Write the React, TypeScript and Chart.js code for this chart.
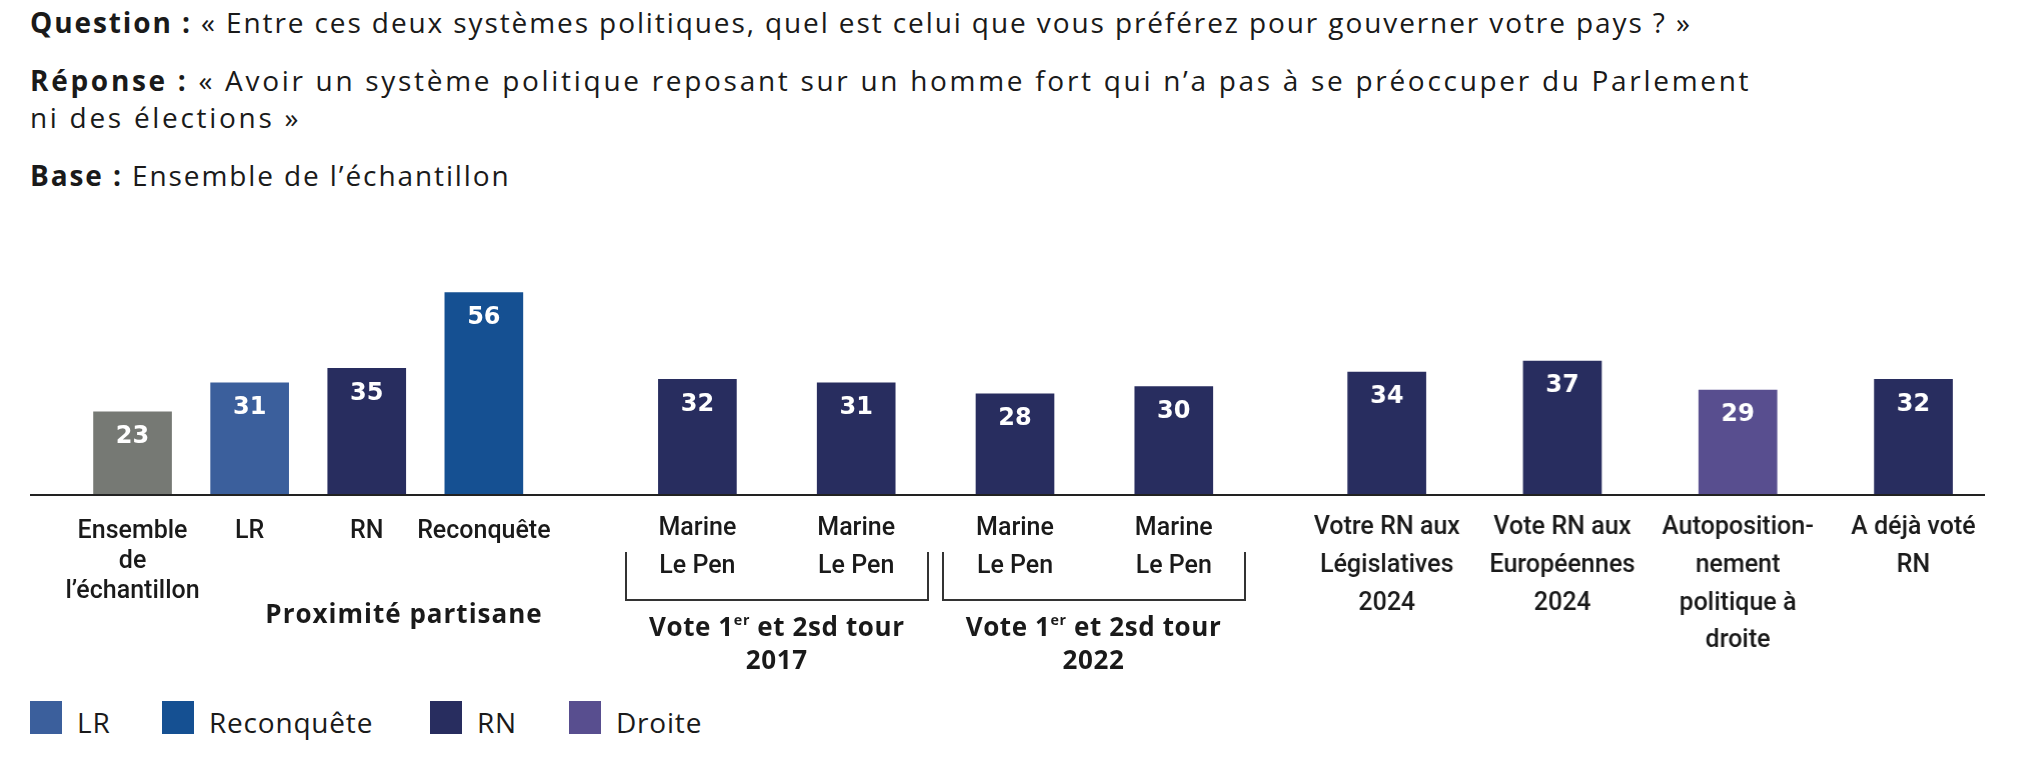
import { useEffect, useRef } from "react";
import Chart from "chart.js/auto";

const GRAY = "#767974";
const LR = "#3b5f9c";
const RECONQUETE = "#155092";
const RN = "#282d5f";
const DROITE = "#584e8f";
const INK = "#1a1a1a";

// Proximité partisane
const proximiteLabels = [["Ensemble", "de", "l’échantillon"], "LR", "RN", "Reconquête"];
const proximiteValues = [23, 31, 35, 56];
const proximiteColors = [GRAY, LR, RN, RECONQUETE];

// Vote 1er et 2sd tour 2017 / 2022
const voteLabels = [["Marine", "Le Pen"], ["Marine", "Le Pen"], ["Marine", "Le Pen"], ["Marine", "Le Pen"]];
const voteValues = [32, 31, 28, 30];
const voteColors = [RN, RN, RN, RN];

// autres sous-populations
const autresLabels = [
  ["Votre RN aux", "Législatives", "2024"],
  ["Vote RN aux", "Européennes", "2024"],
  ["Autoposition-", "nement", "politique à", "droite"],
  ["A déjà voté", "RN"],
];
const autresValues = [34, 37, 29, 32];
const autresColors = [RN, RN, DROITE, RN];

const legendNames = ["LR", "Reconquête", "RN", "Droite"];
const legendColors = [LR, RECONQUETE, RN, DROITE];
const legendLeft = [30, 162, 430, 569];

const Y_MAX = 60;
const PAD = 50;
const AREA_TOP = 278;
const AREA_H = 217;
const AXIS_H = 170;

const valueLabels = {
  id: "valueLabels",
  afterDatasetsDraw(chart: Chart) {
    const ctx = chart.ctx;
    const meta = chart.getDatasetMeta(0);
    const data = chart.data.datasets[0].data as number[];
    ctx.save();
    ctx.fillStyle = "#ffffff";
    ctx.font = 'bold 24px "DejaVu Sans"';
    ctx.textAlign = "center";
    ctx.textBaseline = "middle";
    meta.data.forEach((bar: any, i: number) => {
      ctx.fillText(String(data[i]), bar.x, bar.y + 25);
    });
    ctx.restore();
  },
};

function BarGroup({
  labels,
  values,
  colors,
  areaLeft,
  areaWidth,
  lineHeight,
  padding,
}: {
  labels: (string | string[])[];
  values: number[];
  colors: string[];
  areaLeft: number;
  areaWidth: number;
  lineHeight: number;
  padding: number;
}) {
  const ref = useRef<HTMLCanvasElement | null>(null);
  const chartRef = useRef<Chart | null>(null);

  useEffect(() => {
    if (!ref.current) return;
    chartRef.current?.destroy();
    chartRef.current = new Chart(ref.current, {
      type: "bar",
      data: {
        labels,
        datasets: [
          {
            data: values,
            backgroundColor: colors,
            borderWidth: 0,
            barThickness: 78,
          },
        ],
      },
      options: {
        responsive: true,
        maintainAspectRatio: false,
        animation: false,
        layout: { padding: { left: PAD, right: PAD, top: 0, bottom: 0 } },
        plugins: { legend: { display: false }, tooltip: { enabled: false } },
        scales: {
          x: {
            offset: true,
            grid: { display: false, drawTicks: false },
            border: { display: false },
            ticks: {
              color: INK,
              autoSkip: false,
              maxRotation: 0,
              minRotation: 0,
              padding,
              font: { family: "Roboto", size: 25, weight: "500", lineHeight },
            },
            afterFit: (scale: any) => {
              scale.height = AXIS_H;
            },
          },
          y: { display: false, min: 0, max: Y_MAX },
        },
      },
      plugins: [valueLabels],
    });
    return () => {
      chartRef.current?.destroy();
      chartRef.current = null;
    };
  }, [labels, values, colors, lineHeight, padding]);

  return (
    <div
      style={{
        position: "absolute",
        left: areaLeft - PAD,
        top: AREA_TOP,
        width: areaWidth + 2 * PAD,
        height: AREA_H + AXIS_H,
      }}
    >
      <canvas ref={ref} />
    </div>
  );
}

const bold: React.CSSProperties = { fontWeight: 700 };

export default function App() {
  return (
    <div
      style={{
        position: "absolute",
        left: 0,
        top: 0,
        width: 2038,
        height: 762,
        overflow: "hidden",
        background: "#ffffff",
        color: INK,
        fontFamily: '"Open Sans", sans-serif',
      }}
    >
      <div
        style={{
          position: "absolute",
          left: 30,
          top: 3.5,
          fontSize: 28,
          fontWeight: 500,
          lineHeight: "36.6px",
          letterSpacing: "1.9px",
          whiteSpace: "nowrap",
        }}
      >
        <div>
          <span style={bold}>Question :</span> « Entre ces deux systèmes politiques, quel est celui que vous préférez pour
          gouverner votre pays ? »
        </div>
        <div style={{ marginTop: 22.4, letterSpacing: "2.7px" }}>
          <span style={bold}>Réponse :</span> « Avoir un système politique reposant sur un homme fort qui n’a pas à se
          préoccuper du Parlement
          <br />
          ni des élections »
        </div>
        <div style={{ marginTop: 21.8 }}>
          <span style={bold}>Base :</span> Ensemble de l’échantillon
        </div>
      </div>

      <BarGroup
        labels={proximiteLabels}
        values={proximiteValues}
        colors={proximiteColors}
        areaLeft={73.5}
        areaWidth={468.4}
        lineHeight={1.2}
        padding={22}
      />
      <BarGroup
        labels={voteLabels}
        values={voteValues}
        colors={voteColors}
        areaLeft={618.2}
        areaWidth={635.2}
        lineHeight={1.54}
        padding={14}
      />
      <BarGroup
        labels={autresLabels}
        values={autresValues}
        colors={autresColors}
        areaLeft={1299.4}
        areaWidth={701.2}
        lineHeight={1.51}
        padding={14}
      />

      <div style={{ position: "absolute", left: 30, top: 494, width: 1955, height: 2, background: "#222" }} />

      <div
        style={{
          position: "absolute",
          left: 624.6,
          top: 551.7,
          width: 304.4,
          height: 49,
          boxSizing: "border-box",
          borderLeft: "2px solid #333",
          borderRight: "2px solid #333",
          borderBottom: "2px solid #333",
        }}
      />
      <div
        style={{
          position: "absolute",
          left: 941.5,
          top: 551.7,
          width: 304,
          height: 49,
          boxSizing: "border-box",
          borderLeft: "2px solid #333",
          borderRight: "2px solid #333",
          borderBottom: "2px solid #333",
        }}
      />

      <div
        style={{
          position: "absolute",
          left: 204,
          top: 596,
          width: 400,
          textAlign: "center",
          fontSize: 26,
          lineHeight: "34px",
          fontWeight: 700,
          letterSpacing: "1px",
        }}
      >
        Proximité partisane
      </div>
      {["2017", "2022"].map((year, i) => (
        <div
          key={year}
          style={{
            position: "absolute",
            left: (i === 0 ? 776.8 : 1093.5) - 200,
            top: 610,
            width: 400,
            textAlign: "center",
            fontSize: 26,
            lineHeight: "33.3px",
            fontWeight: 700,
            letterSpacing: "0.6px",
          }}
        >
          Vote 1
          <sup style={{ fontSize: "0.55em", lineHeight: 0, verticalAlign: "0.75em" }}>er</sup> et 2sd tour
          <br />
          {year}
        </div>
      ))}

      {legendNames.map((name, i) => (
        <div
          key={name}
          style={{
            position: "absolute",
            left: legendLeft[i],
            top: 700,
            height: 34,
            display: "flex",
            alignItems: "flex-end",
            whiteSpace: "nowrap",
          }}
        >
          <div style={{ width: 32, height: 33, background: legendColors[i], marginRight: 15 }} />
          <div style={{ fontSize: 28, lineHeight: "34px", letterSpacing: "0.8px", marginBottom: -5 }}>{name}</div>
        </div>
      ))}
    </div>
  );
}
